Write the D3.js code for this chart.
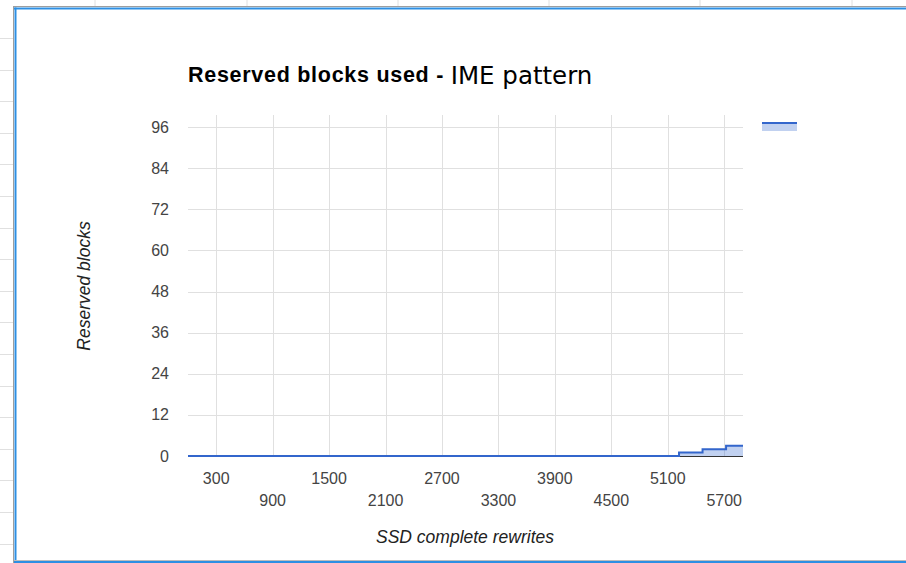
<!DOCTYPE html>
<html><head><meta charset="utf-8">
<script src="https://cdn.jsdelivr.net/npm/d3@7"></script>
<style>html,body{margin:0;padding:0;background:#fff;overflow:hidden}</style>
</head><body>
<svg id="c" width="906" height="563"></svg>
<script>
// Data
const rewrites = [0, 5220, 5470, 5720, 5900];
const reservedBlocks = [0, 1, 2, 3, 3];
const yTicks = [0, 12, 24, 36, 48, 60, 72, 84, 96];
const xTicks = [300, 900, 1500, 2100, 2700, 3300, 3900, 4500, 5100, 5700];
const titleMain = "Reserved blocks used - ";
const titleTail = "IME pattern";
const xTitle = "SSD complete rewrites";
const yTitle = "Reserved blocks";

const svg = d3.select("#c");
// spreadsheet background gridlines
const sheetV = [95, 247, 398, 549, 700, 852];
const sheetH = d3.range(0, 17).map(i => 38 + i * 31.6);
svg.selectAll(".sv").data(sheetV).join("line")
  .attr("x1", d => d).attr("x2", d => d).attr("y1", 0).attr("y2", 7)
  .attr("stroke", "#e0e0e0").attr("stroke-width", 1);
svg.selectAll(".sh").data(sheetH).join("line")
  .attr("x1", 0).attr("x2", 13).attr("y1", d => Math.round(d) + 0.5).attr("y2", d => Math.round(d) + 0.5)
  .attr("stroke", "#e0e0e0").attr("stroke-width", 1);
// chart box borders
svg.append("line").attr("x1", 13).attr("x2", 906).attr("y1", 6.5).attr("y2", 6.5).attr("stroke", "#9e9e9e");
svg.append("line").attr("x1", 13.5).attr("x2", 13.5).attr("y1", 6).attr("y2", 563).attr("stroke", "#9e9e9e");
svg.append("line").attr("x1", 14).attr("x2", 906).attr("y1", 8.5).attr("y2", 8.5).attr("stroke", "#2d8fe3").attr("stroke-width", 2);
svg.append("line").attr("x1", 15.5).attr("x2", 15.5).attr("y1", 7.5).attr("y2", 563).attr("stroke", "#2d8fe3").attr("stroke-width", 2);
svg.append("line").attr("x1", 14).attr("x2", 906).attr("y1", 560.5).attr("y2", 560.5).attr("stroke", "#bdbdbd");
svg.append("line").attr("x1", 14).attr("x2", 906).attr("y1", 562).attr("y2", 562).attr("stroke", "#2d8fe3").attr("stroke-width", 2);

const L = 188, R = 743, T = 127, B = 456;
const x = d3.scaleLinear().domain([0, 5900]).range([L, R]);
const y = d3.scaleLinear().domain([0, 96]).range([B, T]);

const g = svg.append("g");
// horizontal gridlines
g.selectAll(".hg").data(yTicks).join("line")
  .attr("x1", L).attr("x2", R).attr("y1", d => Math.round(y(d)) + 0.5).attr("y2", d => Math.round(y(d)) + 0.5)
  .attr("stroke", "#e0e0e0");
// vertical gridlines
g.selectAll(".vg").data(xTicks).join("line")
  .attr("x1", d => Math.round(x(d)) + 0.5).attr("x2", d => Math.round(x(d)) + 0.5)
  .attr("y1", T - 12).attr("y2", B)
  .attr("stroke", "#e0e0e0");

// y tick labels
g.selectAll(".yl").data(yTicks).join("text")
  .attr("x", 169).attr("y", d => y(d)).attr("dy", "0.35em")
  .attr("text-anchor", "end").attr("font-family", "Liberation Sans, Arial, sans-serif")
  .attr("font-size", 16).attr("fill", "#444").text(d => d);
// x tick labels (alternating rows)
g.selectAll(".xl").data(xTicks).join("text")
  .attr("x", d => x(d)).attr("y", (d, i) => i % 2 === 0 ? 484 : 506)
  .attr("text-anchor", "middle").attr("font-family", "Liberation Sans, Arial, sans-serif")
  .attr("font-size", 16).attr("fill", "#444").text(d => d);

const pts = rewrites.map((r, i) => [r, reservedBlocks[i]]);
const area = d3.area().x(d => x(d[0])).y0(y(0)).y1(d => y(d[1])).curve(d3.curveStepAfter);
const line = d3.line().x(d => x(d[0])).y(d => y(d[1])).curve(d3.curveStepAfter);
g.append("path").datum(pts).attr("d", area).attr("fill", "#3366cc").attr("fill-opacity", 0.3);
// baseline
g.append("line").attr("x1", L).attr("x2", R).attr("y1", B + 0.5).attr("y2", B + 0.5).attr("stroke", "#333");
g.append("path").datum(pts).attr("d", line).attr("fill", "none").attr("stroke", "#3366cc").attr("stroke-width", 2);

// legend
svg.append("rect").attr("x", 762).attr("y", 122).attr("width", 35).attr("height", 9).attr("fill", "#3366cc").attr("fill-opacity", 0.3);
svg.append("line").attr("x1", 762).attr("x2", 797).attr("y1", 123).attr("y2", 123).attr("stroke", "#3366cc").attr("stroke-width", 2);

// title
const t = svg.append("text").attr("x", 188).attr("y", 82).attr("fill", "#000");
t.append("tspan").attr("font-family", "Liberation Sans, Arial, sans-serif").attr("font-weight", "bold")
  .attr("font-size", 21.5).attr("textLength", 262).text(titleMain);
t.append("tspan").attr("font-family", "DejaVu Sans, sans-serif").attr("font-size", 24.5).attr("dy", 2).text(titleTail);

// axis titles
svg.append("text").attr("x", 465).attr("y", 543).attr("text-anchor", "middle")
  .attr("font-family", "Liberation Sans, Arial, sans-serif").attr("font-style", "italic")
  .attr("font-size", 17.5).attr("fill", "#222").text(xTitle);
svg.append("text").attr("transform", "translate(90,286) rotate(-90)").attr("text-anchor", "middle")
  .attr("font-family", "Liberation Sans, Arial, sans-serif").attr("font-style", "italic")
  .attr("font-size", 17.5).attr("fill", "#222").text(yTitle);
</script>
</body></html>
